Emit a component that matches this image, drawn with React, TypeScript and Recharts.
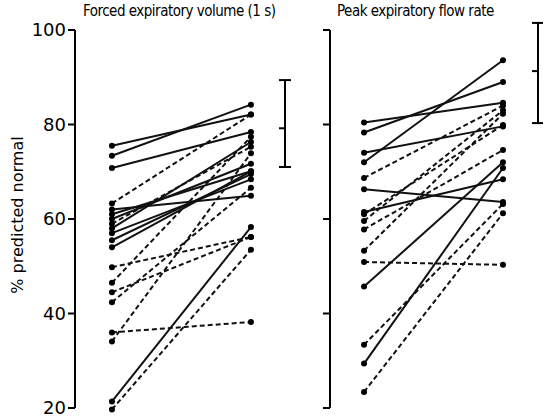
import { ComposedChart, ErrorBar, Line, ReferenceLine, Scatter, XAxis, YAxis } from "recharts";

// Forced expiratory volume (1 s), % predicted normal, before -> after
const FEV_BEFORE = [75.5, 73.4, 70.8, 63.3, 62.0, 61.0, 60.0, 59.0, 58.0, 57.0, 55.5, 54.0, 49.8, 46.5, 44.5, 42.4, 36.0, 34.1, 21.4, 19.7];
const FEV_AFTER = [82.1, 84.2, 78.4, 82.1, 64.9, 70.1, 71.7, 75.3, 76.3, 68.4, 69.5, 70.1, 56.2, 77.4, 56.2, 66.6, 38.2, 73.9, 58.3, 53.5];
const FEV_GROUP = ["a", "a", "a", "b", "a", "a", "a", "b", "a", "a", "a", "a", "b", "b", "b", "b", "b", "b", "a", "b"];

// Peak expiratory flow rate, % predicted normal, before -> after
const PEF_BEFORE = [80.4, 78.3, 74.0, 72.0, 68.7, 66.3, 61.5, 61.0, 59.6, 57.8, 53.3, 50.9, 45.7, 33.4, 29.4, 23.4];
const PEF_AFTER = [84.6, 89.0, 79.6, 93.6, 84.0, 63.6, 68.4, 79.9, 83.0, 74.6, 82.3, 50.3, 72.0, 63.2, 70.8, 61.2];
const PEF_GROUP = ["a", "a", "a", "a", "b", "a", "a", "b", "b", "b", "b", "b", "a", "b", "a", "b"];

// mean and range bars drawn beside each panel
const FEV_BAR = [71.0, 79.2, 89.4];
const PEF_BAR = [80.3, 91.3, 101.5];

const Y_TICKS = [20, 40, 60, 80, 100];
const Y_DOMAIN: [number, number] = [19, 102];
const FONT = "'DejaVu Sans', sans-serif";
const TITLE_FONT = "'DejaVu Sans Condensed', 'DejaVu Sans', sans-serif";

const MeanTick = (props: any) => (
  <line x1={props.cx - 6} x2={props.cx} y1={props.cy} y2={props.cy} stroke="#000" strokeWidth={2} />
);

const NoLabel = () => <g />;

function Panel({
  before,
  after,
  group,
  bar,
  barX,
  width,
  axisWidth,
  domain,
  labels,
}: {
  before: number[];
  after: number[];
  group: string[];
  bar: number[];
  barX: number;
  width: number;
  axisWidth: number;
  domain: [number, number];
  labels: boolean;
}) {
  const barData = [{ x: barX, y: bar[1], err: [bar[1] - bar[0], bar[2] - bar[1]] }];
  return (
    // plot spans 19..102 so that 100 sits at y=30 and 20 at y=408
    <ComposedChart width={width} height={418} margin={{ top: 20.55, right: 0, bottom: 5.27, left: 0 }}>
      <XAxis type="number" dataKey="x" domain={domain} hide allowDataOverflow />
      <YAxis
        type="number"
        dataKey="y"
        domain={Y_DOMAIN}
        ticks={Y_TICKS}
        interval={0}
        width={axisWidth}
        axisLine={false}
        tickLine={{ stroke: "#000", strokeWidth: 2 }}
        tickSize={7}
        tickMargin={2}
        tick={labels ? { fill: "#000", fontSize: 18, fontFamily: FONT } : NoLabel}
      />
      <ReferenceLine
        segment={[
          { x: domain[0], y: 20 },
          { x: domain[0], y: 100 },
        ]}
        stroke="#000"
        strokeWidth={2}
      />
      {before.map((b, i) => (
        <Line
          key={i}
          data={[
            { x: 0, y: b },
            { x: 1, y: after[i] },
          ]}
          dataKey="y"
          stroke="#111"
          strokeWidth={2}
          strokeDasharray={group[i] === "b" ? "5 3" : undefined}
          dot={{ r: 3, fill: "#000", stroke: "#000", strokeWidth: 0 }}
          isAnimationActive={false}
        />
      ))}
      <Scatter data={barData} dataKey="y" shape={MeanTick} isAnimationActive={false}>
        <ErrorBar dataKey="err" direction="y" width={6} stroke="#000" strokeWidth={2} />
      </Scatter>
    </ComposedChart>
  );
}

const titleStyle = {
  position: "absolute" as const,
  top: 2,
  fontSize: 15,
  letterSpacing: -0.5,
  fontFamily: TITLE_FONT,
  whiteSpace: "nowrap" as const,
  color: "#000",
};

export default function App() {
  return (
    <div style={{ position: "absolute", left: 0, top: 0, width: 543, height: 418, background: "#fff", fontFamily: FONT }}>
      <div style={{ position: "absolute", left: 0, top: 0 }}>
        <Panel
          before={FEV_BEFORE}
          after={FEV_AFTER}
          group={FEV_GROUP}
          bar={FEV_BAR}
          barX={1.245}
          width={300}
          axisWidth={75}
          domain={[-0.266, 1.353]}
          labels
        />
      </div>
      <div style={{ position: "absolute", left: 300, top: 0 }}>
        <Panel
          before={PEF_BEFORE}
          after={PEF_AFTER}
          group={PEF_GROUP}
          bar={PEF_BAR}
          barX={1.252}
          width={243}
          axisWidth={30}
          domain={[-0.245, 1.288]}
          labels={false}
        />
      </div>
      <div style={{ ...titleStyle, left: 83 }}>Forced expiratory volume (1 s)</div>
      <div style={{ ...titleStyle, left: 337 }}>Peak expiratory flow rate</div>
      <div
        style={{
          position: "absolute",
          left: 17,
          top: 215,
          transform: "translate(-50%, -50%) rotate(-90deg)",
          fontSize: 16,
          whiteSpace: "nowrap",
          color: "#000",
        }}
      >
        % predicted normal
      </div>
    </div>
  );
}
